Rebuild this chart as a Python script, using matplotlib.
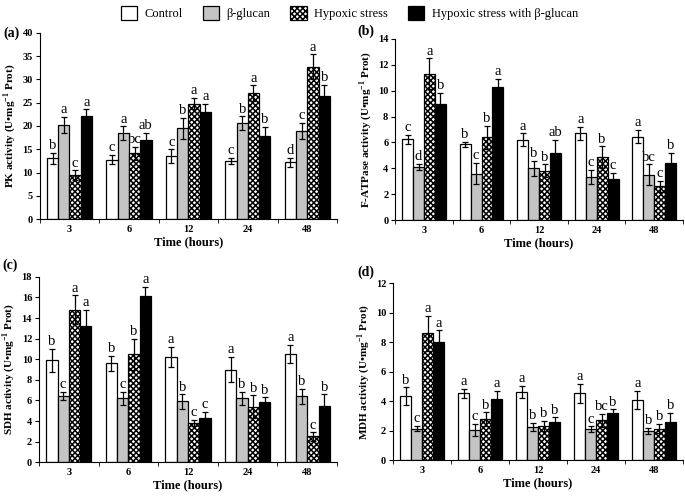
import numpy as np
import matplotlib
matplotlib.use('Agg')
import matplotlib.pyplot as plt
from matplotlib.patches import Patch

plt.rcParams['font.family'] = ['Liberation Serif', 'DejaVu Serif']
plt.rcParams['mathtext.fontset'] = 'custom'
plt.rcParams['mathtext.rm'] = 'Liberation Serif:bold'
plt.rcParams['mathtext.bf'] = 'Liberation Serif:bold'
plt.rcParams['hatch.linewidth'] = 1.1

# ---- data ----
hours = ['3', '6', '12', '24', '48']
groups = ['Control', 'β-glucan', 'Hypoxic stress', 'Hypoxic stress with β-glucan']

# (a) PK
pk_ctrl = [13.1, 12.8, 13.5, 12.5, 12.2]
pk_glu = [20.3, 18.5, 19.5, 20.6, 19.0]
pk_hyp = [9.5, 14.1, 24.8, 27.0, 32.7]
pk_hypglu = [22.2, 17.0, 23.0, 17.8, 26.5]
pk_ctrl_err = [1.2, 1.0, 1.5, 0.6, 1.0]
pk_glu_err = [1.7, 1.4, 2.2, 1.5, 1.7]
pk_hyp_err = [1.0, 1.4, 1.2, 1.7, 2.7]
pk_hypglu_err = [1.4, 1.6, 1.7, 2.0, 2.3]
pk_letters = [['b', 'a', 'c', 'a'], ['c', 'a', 'bc', 'ab'], ['c', 'b', 'a', 'a'],
              ['c', 'b', 'a', 'b'], ['d', 'c', 'a', 'b']]

# (b) F-ATPase
fa_ctrl = [6.25, 5.85, 6.2, 6.7, 6.45]
fa_glu = [4.1, 3.6, 4.0, 3.35, 3.5]
fa_hyp = [11.3, 6.4, 3.8, 4.85, 2.6]
fa_hypglu = [9.0, 10.3, 5.2, 3.2, 4.4]
fa_ctrl_err = [0.35, 0.2, 0.5, 0.5, 0.5]
fa_glu_err = [0.25, 0.8, 0.6, 0.55, 0.8]
fa_hyp_err = [1.2, 0.9, 0.5, 0.85, 0.45]
fa_hypglu_err = [0.8, 0.6, 1.0, 0.45, 0.8]
fa_letters = [['c', 'd', 'a', 'b'], ['b', 'c', 'b', 'a'], ['a', 'b', 'b', 'ab'],
              ['a', 'c', 'b', 'c'], ['a', 'bc', 'c', 'b']]

# (c) SDH
sdh_ctrl = [9.9, 9.6, 10.2, 9.0, 10.5]
sdh_glu = [6.4, 6.2, 5.9, 6.2, 6.4]
sdh_hyp = [14.8, 10.5, 3.8, 5.4, 2.5]
sdh_hypglu = [13.2, 16.1, 4.3, 5.8, 5.5]
sdh_ctrl_err = [1.1, 0.7, 1.0, 1.2, 0.9]
sdh_glu_err = [0.4, 0.6, 0.7, 0.6, 0.7]
sdh_hyp_err = [1.4, 1.5, 0.3, 1.1, 0.4]
sdh_hypglu_err = [1.6, 0.9, 0.6, 0.5, 1.1]
sdh_letters = [['b', 'c', 'a', 'a'], ['b', 'c', 'b', 'a'], ['a', 'b', 'c', 'c'],
               ['a', 'b', 'b', 'b'], ['a', 'b', 'c', 'b']]

# (d) MDH
mdh_ctrl = [4.35, 4.55, 4.65, 4.55, 4.1]
mdh_glu = [2.15, 2.05, 2.25, 2.1, 2.0]
mdh_hyp = [8.6, 2.8, 2.3, 2.7, 2.15]
mdh_hypglu = [8.0, 4.15, 2.6, 3.2, 2.6]
mdh_ctrl_err = [0.6, 0.3, 0.4, 0.65, 0.6]
mdh_glu_err = [0.2, 0.4, 0.3, 0.2, 0.2]
mdh_hyp_err = [1.2, 0.45, 0.35, 0.45, 0.3]
mdh_hypglu_err = [0.8, 0.55, 0.3, 0.25, 0.6]
mdh_letters = [['b', 'c', 'a', 'a'], ['a', 'c', 'b', 'a'], ['a', 'b', 'b', 'b'],
               ['a', 'c', 'bc', 'b'], ['a', 'b', 'b', 'b']]

# bar styles per group
faces = ['white', '#c4c4c4', 'white', 'black']
hatches = [None, None, 'xxxxxx', None]

fig = plt.figure(figsize=(6.85, 4.97), dpi=100)

# tag, axes rect, tag position (fig px), ylabel, ymax, ystep, values, errors, letters
panels = [
    ('(a)', [0.058, 0.559, 0.434, 0.375], (3, 33), 'PK activity (U•mg$^{-1}$ Prot)', 40, 5,
     [pk_ctrl, pk_glu, pk_hyp, pk_hypglu], [pk_ctrl_err, pk_glu_err, pk_hyp_err, pk_hypglu_err], pk_letters),
    ('(b)', [0.577, 0.557, 0.420, 0.365], (357, 31), 'F-ATPase activity (U•mg$^{-1}$ Prot)', 14, 2,
     [fa_ctrl, fa_glu, fa_hyp, fa_hypglu], [fa_ctrl_err, fa_glu_err, fa_hyp_err, fa_hypglu_err], fa_letters),
    ('(c)', [0.057, 0.070, 0.435, 0.373], (2, 265), 'SDH activity (U•mg$^{-1}$ Prot)', 18, 2,
     [sdh_ctrl, sdh_glu, sdh_hyp, sdh_hypglu], [sdh_ctrl_err, sdh_glu_err, sdh_hyp_err, sdh_hypglu_err], sdh_letters),
    ('(d)', [0.574, 0.074, 0.423, 0.356], (357, 272), 'MDH activity (U•mg$^{-1}$ Prot)', 12, 2,
     [mdh_ctrl, mdh_glu, mdh_hyp, mdh_hypglu], [mdh_ctrl_err, mdh_glu_err, mdh_hyp_err, mdh_hypglu_err], mdh_letters),
]

x = np.arange(len(hours))
w = 0.19

for tag, pos, tagxy, ylab, ymax, ystep, vals, errs, letters in panels:
    ax = fig.add_axes(pos)
    for k in range(4):
        xs = x + (k - 1.5) * w
        ax.bar(xs, vals[k], width=w, color=faces[k], edgecolor='black', linewidth=0.9,
               hatch=hatches[k], yerr=errs[k], capsize=2,
               error_kw=dict(ecolor='black', elinewidth=0.9, capthick=0.9), zorder=2)
        for i in range(len(hours)):
            ax.annotate(letters[i][k], (xs[i], vals[k][i] + errs[k][i]),
                        xytext=(0, 0.5), textcoords='offset points',
                        ha='center', va='bottom', fontsize=10.5)
    ax.set_xlim(-0.5, len(hours) - 0.5)
    ax.set_ylim(0, ymax)
    ax.set_yticks(np.arange(0, ymax + 0.1, ystep))
    ax.set_xticks(x)
    ax.set_xticklabels(hours)
    ax.set_xticks(np.arange(-0.5, len(hours)), minor=True)
    ax.tick_params(axis='x', which='major', length=0, pad=4, labelsize=7.5)
    ax.tick_params(axis='x', which='minor', length=3, direction='out')
    ax.tick_params(axis='y', length=3, direction='out', pad=2, labelsize=7.5)
    for lab in ax.get_xticklabels() + ax.get_yticklabels():
        lab.set_fontweight('bold')
    ax.spines['top'].set_visible(False)
    ax.spines['right'].set_visible(False)
    ax.set_xlabel('Time (hours)', fontweight='bold', fontsize=9, labelpad=2)
    ax.set_ylabel(ylab, fontweight='bold', fontsize=8, labelpad=3)
    fig.text(tagxy[0] / 685, 1 - tagxy[1] / 497, tag, fontsize=10, fontweight='bold',
             ha='left', va='center')

handles = [Patch(facecolor=faces[k], edgecolor='black', hatch=hatches[k], linewidth=0.9)
           for k in range(4)]
fig.legend(handles, groups, loc='upper center', bbox_to_anchor=(0.51, 1.01), ncol=4,
           frameon=False, fontsize=9, handlelength=1.3, handleheight=1.3,
           columnspacing=1.6, handletextpad=0.6)

fig.savefig('out.png', dpi=100)
